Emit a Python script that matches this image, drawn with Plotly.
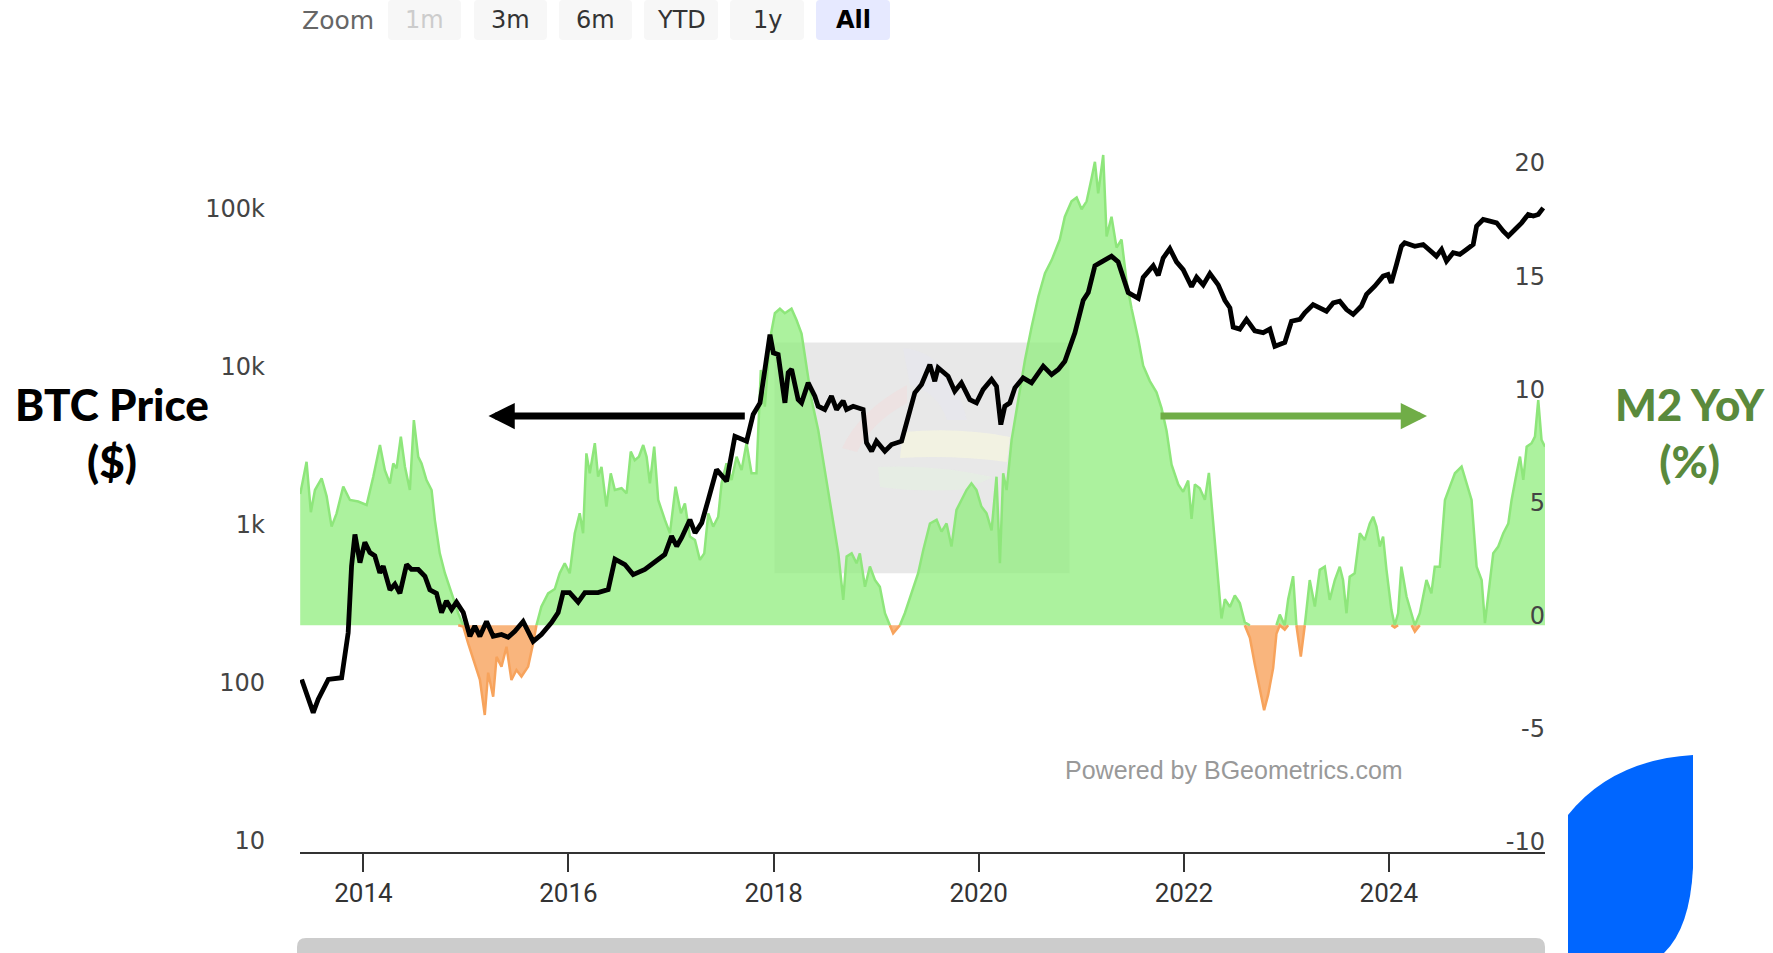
import plotly.graph_objects as go
import pandas as pd

# ---------------- data ----------------
btc_years = [
    2013.397, 2013.445, 2013.510, 2013.559, 2013.657, 2013.787, 2013.851, 2013.884, 2013.917, 2013.966,
    2014.014, 2014.063, 2014.111, 2014.160, 2014.193, 2014.259, 2014.307, 2014.356, 2014.421, 2014.469,
    2014.535, 2014.600, 2014.648, 2014.713, 2014.762, 2014.810, 2014.860, 2014.908, 2014.974, 2015.039,
    2015.086, 2015.136, 2015.201, 2015.266, 2015.347, 2015.412, 2015.477, 2015.558, 2015.607, 2015.656,
    2015.736, 2015.835, 2015.900, 2015.948, 2016.012, 2016.095, 2016.160, 2016.288, 2016.387, 2016.453,
    2016.550, 2016.630, 2016.744, 2016.842, 2016.938, 2017.004, 2017.054, 2017.102, 2017.183, 2017.233,
    2017.298, 2017.363, 2017.443, 2017.541, 2017.622, 2017.736, 2017.800, 2017.867, 2017.915, 2017.964,
    2017.997, 2018.044, 2018.110, 2018.142, 2018.175, 2018.239, 2018.272, 2018.337, 2018.402, 2018.434,
    2018.499, 2018.564, 2018.614, 2018.678, 2018.711, 2018.776, 2018.873, 2018.906, 2018.956, 2019.003,
    2019.085, 2019.150, 2019.248, 2019.297, 2019.377, 2019.443, 2019.524, 2019.572, 2019.605, 2019.702,
    2019.767, 2019.832, 2019.914, 2019.979, 2020.043, 2020.126, 2020.174, 2020.216, 2020.255, 2020.304,
    2020.353, 2020.433, 2020.515, 2020.629, 2020.710, 2020.775, 2020.839, 2020.937, 2021.018, 2021.067,
    2021.132, 2021.197, 2021.294, 2021.359, 2021.424, 2021.457, 2021.555, 2021.603, 2021.701, 2021.750,
    2021.798, 2021.863, 2021.928, 2021.993, 2022.075, 2022.124, 2022.189, 2022.254, 2022.335, 2022.400,
    2022.449, 2022.481, 2022.546, 2022.611, 2022.692, 2022.774, 2022.839, 2022.888, 2022.985, 2023.050,
    2023.131, 2023.180, 2023.261, 2023.326, 2023.391, 2023.457, 2023.521, 2023.587, 2023.652, 2023.732,
    2023.782, 2023.862, 2023.944, 2023.992, 2024.024, 2024.074, 2024.122, 2024.154, 2024.253, 2024.334,
    2024.415, 2024.463, 2024.513, 2024.561, 2024.626, 2024.691, 2024.756, 2024.821, 2024.854, 2024.918,
    2024.983, 2025.049, 2025.114, 2025.163, 2025.228, 2025.293, 2025.357, 2025.407, 2025.455, 2025.504,
]
btc_price = [
    120, 99, 74, 90, 120, 123, 237, 626, 993, 658,
    885, 763, 727, 567, 626, 443, 481, 421, 640, 596,
    596, 540, 443, 421, 318, 376, 332, 370, 318, 225,
    261, 225, 279, 225, 231, 222, 242, 279, 237, 209,
    231, 275, 318, 425, 425, 370, 425, 425, 444, 692,
    640, 553, 596, 671, 741, 968, 836, 946, 1231, 1014,
    1175, 1655, 2555, 2157, 4150, 3862, 5700, 6756, 11020, 18270,
    14000, 13650, 6756, 10500, 11020, 7080, 6756, 9040, 7450, 6430,
    6130, 7450, 6130, 6950, 6130, 6430, 6130, 3776, 3335, 3862,
    3335, 3680, 3862, 5050, 7820, 8830, 11800, 9250, 11270, 9960,
    8000, 9040, 7080, 6756, 8190, 9500, 8600, 4920, 6430, 6756,
    8410, 9730, 9040, 11530, 10200, 10990, 12370, 18750, 30130, 33700,
    49800, 52700, 57300, 52700, 37700, 33700, 31000, 42100, 49800, 43300,
    55700, 64000, 52700, 47100, 36700, 42100, 37700, 44500, 37700, 30130,
    27000, 20400, 19800, 22800, 19300, 18800, 19800, 15400, 16300, 22200,
    22800, 25100, 28300, 27000, 25700, 29000, 29700, 26300, 24500, 27700,
    32800, 37000, 42800, 43800, 38800, 50700, 66200, 69600, 66200, 67900,
    61600, 57300, 63100, 53300, 60300, 58800, 63100, 67900, 88700, 97800,
    95500, 93100, 82400, 76700, 84500, 93100, 105200, 102800, 105200, 115800,
]

m2_years = [
    2013.383, 2013.445, 2013.487, 2013.527, 2013.592, 2013.641, 2013.689, 2013.738, 2013.803, 2013.868,
    2013.949, 2014.031, 2014.096, 2014.161, 2014.209, 2014.258, 2014.291, 2014.323, 2014.365, 2014.405,
    2014.453, 2014.492, 2014.535, 2014.567, 2014.615, 2014.665, 2014.697, 2014.745, 2014.795, 2014.860,
    2014.925, 2014.974, 2015.022, 2015.087, 2015.136, 2015.184, 2015.217, 2015.266, 2015.299, 2015.347,
    2015.396, 2015.444, 2015.493, 2015.542, 2015.607, 2015.656, 2015.688, 2015.736, 2015.802, 2015.867,
    2015.915, 2015.964, 2016.013, 2016.062, 2016.110, 2016.143, 2016.175, 2016.208, 2016.257, 2016.289,
    2016.322, 2016.370, 2016.412, 2016.452, 2016.517, 2016.566, 2016.607, 2016.646, 2016.686, 2016.728,
    2016.761, 2016.793, 2016.835, 2016.874, 2016.939, 2016.988, 2017.043, 2017.095, 2017.134, 2017.183,
    2017.232, 2017.280, 2017.323, 2017.362, 2017.410, 2017.459, 2017.492, 2017.540, 2017.589, 2017.638,
    2017.687, 2017.735, 2017.784, 2017.832, 2017.875, 2017.914, 2017.962, 2018.012, 2018.061, 2018.109,
    2018.174, 2018.223, 2018.272, 2018.321, 2018.370, 2018.435, 2018.484, 2018.533, 2018.582, 2018.631,
    2018.679, 2018.712, 2018.761, 2018.809, 2018.841, 2018.891, 2018.939, 2018.988, 2019.036, 2019.086,
    2019.134, 2019.166, 2019.232, 2019.280, 2019.345, 2019.410, 2019.460, 2019.525, 2019.590, 2019.638,
    2019.687, 2019.735, 2019.784, 2019.834, 2019.882, 2019.930, 2019.979, 2020.027, 2020.077, 2020.126,
    2020.174, 2020.207, 2020.239, 2020.272, 2020.321, 2020.386, 2020.451, 2020.516, 2020.581, 2020.646,
    2020.711, 2020.790, 2020.839, 2020.904, 2020.954, 2021.002, 2021.051, 2021.099, 2021.132, 2021.164,
    2021.213, 2021.246, 2021.294, 2021.343, 2021.392, 2021.441, 2021.490, 2021.555, 2021.603, 2021.668,
    2021.733, 2021.782, 2021.831, 2021.880, 2021.945, 2021.993, 2022.042, 2022.075, 2022.107, 2022.155,
    2022.205, 2022.244, 2022.286, 2022.335, 2022.367, 2022.400, 2022.449, 2022.497, 2022.546, 2022.594,
    2022.644, 2022.692, 2022.741, 2022.783, 2022.822, 2022.871, 2022.903, 2022.936, 2022.984, 2023.018,
    2023.066, 2023.098, 2023.141, 2023.180, 2023.228, 2023.278, 2023.326, 2023.375, 2023.423, 2023.473,
    2023.521, 2023.553, 2023.587, 2023.618, 2023.667, 2023.717, 2023.765, 2023.814, 2023.847, 2023.879,
    2023.912, 2023.944, 2023.977, 2024.025, 2024.057, 2024.090, 2024.122, 2024.172, 2024.221, 2024.253,
    2024.301, 2024.366, 2024.414, 2024.447, 2024.496, 2024.546, 2024.594, 2024.643, 2024.708, 2024.756,
    2024.805, 2024.854, 2024.903, 2024.935, 2024.968, 2025.016, 2025.065, 2025.114, 2025.163, 2025.195,
    2025.244, 2025.277, 2025.309, 2025.342, 2025.390, 2025.423, 2025.455, 2025.487, 2025.521,
]
m2_yoy = [
    5.8, 7.23, 5.0, 5.98, 6.5, 5.7, 4.36, 4.95, 6.13, 5.54,
    5.47, 5.32, 6.57, 7.97, 6.86, 6.27, 7.16, 6.94, 8.34, 7.01,
    5.98, 9.07, 7.45, 7.16, 6.42, 5.98, 4.65, 3.18, 2.3, 1.41,
    0.53, -0.06, -0.8, -1.7, -2.4, -3.97, -2.1, -3.16, -1.4, -1.83,
    -0.95, -2.42, -1.98, -2.27, -1.83, -0.8, 0.0, 0.82, 1.41, 1.6,
    2.3, 2.74, 2.3, 4.07, 4.95, 4.07, 7.6, 6.72, 8.05, 6.57,
    7.0, 5.25, 6.72, 5.98, 6.06, 5.83, 7.68, 7.3, 7.45, 7.97,
    7.45, 6.28, 7.9, 5.54, 4.66, 4.07, 6.13, 4.95, 5.39, 3.92,
    3.77, 2.89, 3.18, 4.95, 4.36, 4.8, 6.28, 7.16, 6.42, 7.45,
    6.86, 8.05, 6.72, 6.72, 11.29, 9.67, 12.6, 13.8, 14.0, 13.8,
    14.0, 13.5, 12.9, 11.4, 9.97, 8.63, 7.3, 5.98, 4.5, 3.18,
    1.12, 3.04, 3.18, 2.74, 3.18, 1.7, 2.6, 2.0, 1.7, 0.53,
    0.0, -0.36, 0.0, 0.53, 1.42, 2.3, 3.33, 4.5, 4.66, 4.14,
    4.5, 3.48, 5.1, 5.54, 5.98, 6.28, 5.98, 5.25, 4.95, 4.2,
    6.57, 2.74, 6.72, 5.98, 8.2, 9.97, 11.73, 13.2, 14.53, 15.57,
    16.15, 17.06, 18.07, 18.75, 18.92, 18.4, 18.75, 19.76, 20.5, 19.1,
    20.8, 17.2, 18.07, 16.7, 17.06, 15.2, 14.0, 12.66, 11.48, 10.8,
    10.3, 9.6, 8.6, 7.1, 6.23, 5.9, 6.4, 4.7, 6.23, 6.06,
    5.55, 6.74, 4.54, 2.0, 0.3, 1.15, 0.81, 1.32, 0.98, 0.13,
    -0.55, -1.73, -2.9, -3.76, -3.08, -1.9, -0.38, 0.47, -0.2, 1.15,
    2.17, 0.0, -1.39, 0.0, 2.0, 0.83, 2.45, 2.59, 1.12, 2.0,
    2.59, 2.0, 0.53, 2.15, 2.3, 4.07, 3.77, 4.5, 4.8, 4.36,
    3.48, 3.92, 2.45, 0.68, -0.1, 0.53, 2.59, 1.27, 0.53, -0.28,
    0.53, 2.0, 1.41, 2.59, 2.59, 5.54, 6.13, 6.72, 7.02, 6.28,
    5.54, 2.59, 2.0, 0.09, 1.27, 3.18, 3.48, 4.07, 4.5, 5.54,
    6.72, 7.46, 6.43, 7.9, 8.05, 8.34, 9.96, 8.2, 7.9,
]

x_tick_years = [2014, 2016, 2018, 2020, 2022, 2024]
btc_tick_vals = [10, 100, 1000, 10000, 100000]
btc_tick_text = ["10", "100", "1k", "10k", "100k"]
m2_tick_vals = [-10, -5, 0, 5, 10, 15, 20]
m2_tick_text = ["-10", "-5", "0", "5", "10", "15", "20"]
zoom_buttons = ["1m", "3m", "6m", "YTD", "1y", "All"]


def year_to_ts(y):
    yr = int(y)
    start = pd.Timestamp(year=yr, month=1, day=1)
    end = pd.Timestamp(year=yr + 1, month=1, day=1)
    return start + (end - start) * (y - yr)


btc_x = [year_to_ts(y) for y in btc_years]
m2_x = [year_to_ts(y) for y in m2_years]
n = min(len(m2_x), len(m2_yoy))
m2_x, m2_v = m2_x[:n], m2_yoy[:n]

pos_fill = [max(v, 0) for v in m2_v]
neg_fill = [min(v, 0) for v in m2_v]
pos_line, neg_line = [], []
for i, v in enumerate(m2_v):
    prev_v = m2_v[i - 1] if i > 0 else v
    next_v = m2_v[i + 1] if i < n - 1 else v
    pos_line.append(max(v, 0) if (v >= 0 or prev_v > 0 or next_v > 0) else None)
    neg_line.append(min(v, 0) if (v <= 0 or prev_v < 0 or next_v < 0) else None)

GREEN = "#8ee67b"
ORANGE = "#f7a35c"

fig = go.Figure()
fig.add_trace(go.Scatter(x=m2_x, y=pos_fill, mode="lines", line=dict(width=0),
                         fill="tozeroy", fillcolor="rgba(144,237,125,0.75)", yaxis="y", hoverinfo="skip"))
fig.add_trace(go.Scatter(x=m2_x, y=neg_fill, mode="lines", line=dict(width=0),
                         fill="tozeroy", fillcolor="rgba(247,163,92,0.8)", yaxis="y", hoverinfo="skip"))
fig.add_trace(go.Scatter(x=m2_x, y=pos_line, mode="lines", line=dict(color=GREEN, width=2.5),
                         connectgaps=False, yaxis="y", name="M2 YoY"))
fig.add_trace(go.Scatter(x=m2_x, y=neg_line, mode="lines", line=dict(color=ORANGE, width=2.5),
                         connectgaps=False, yaxis="y", hoverinfo="skip"))
fig.add_trace(go.Scatter(x=btc_x, y=btc_price, mode="lines", line=dict(color="black", width=4.8),
                         yaxis="y2", name="BTC Price"))

# ---------------- page geometry helpers (decorations only) ----------------
PL, PR, PT, PB = 300, 1545, 150, 852
PW, PH = PR - PL, PB - PT


def fx(x):
    return (x - PL) / PW


def fy(y):
    return (PB - y) / PH


def pt(x, y):
    return f"{fx(x):.5f},{fy(y):.5f}"


def rrect(x0, y0, x1, y1, r):
    return (f"M{pt(x0 + r, y0)} L{pt(x1 - r, y0)} Q{pt(x1, y0)} {pt(x1, y0 + r)} "
            f"L{pt(x1, y1 - r)} Q{pt(x1, y1)} {pt(x1 - r, y1)} L{pt(x0 + r, y1)} "
            f"Q{pt(x0, y1)} {pt(x0, y1 - r)} L{pt(x0, y0 + r)} Q{pt(x0, y0)} {pt(x0 + r, y0)} Z")


shapes = []


def add_path(d, fill, layer="above", opacity=1.0):
    shapes.append(dict(type="path", xref="paper", yref="paper", path=d, fillcolor=fill,
                       line=dict(width=0), layer=layer, opacity=opacity))


# watermark box + faint logo
shapes.append(dict(type="rect", xref="paper", yref="paper", x0=fx(774.5), x1=fx(1069.6),
                   y0=fy(573.3), y1=fy(342.6), fillcolor="#e2e2e2", line=dict(width=0),
                   layer="below", opacity=0.8))
add_path(f"M{pt(842, 448)} Q{pt(860, 410)} {pt(907, 385)} L{pt(907, 403)} Q{pt(872, 422)} {pt(857, 452)} Z",
         "#f0dede", "below", 0.6)
add_path(f"M{pt(903, 348)} Q{pt(950, 352)} {pt(967, 420)} L{pt(947, 420)} Q{pt(938, 392)} {pt(910, 385)} Z",
         "#e6e6ef", "below", 0.6)
add_path(f"M{pt(903, 432)} Q{pt(960, 427)} {pt(1010, 437)} L{pt(1007, 462)} Q{pt(955, 455)} {pt(900, 458)} Z",
         "#f6f6e0", "below", 0.7)
add_path(f"M{pt(878, 467)} Q{pt(935, 464)} {pt(993, 477)} L{pt(967, 489)} Q{pt(925, 493)} {pt(880, 487)} Z",
         "#e6f0e2", "below", 0.7)

# zoom buttons
btn_x = [(388, 461), (474, 547), (559, 632), (644, 718), (730, 804), (816, 890)]
for (x0, x1), lab in zip(btn_x, zoom_buttons):
    add_path(rrect(x0, 0, x1, 40, 4), "#e6e9ff" if lab == "All" else "#f7f7f7")

# scrollbar
add_path(rrect(297, 938, 1545, 985, 9), "#cccccc")

# blue corner blob
add_path(f"M{pt(1568, 953)} L{pt(1568, 815)} Q{pt(1612, 760)} {pt(1693, 755)} "
         f"L{pt(1693, 868)} Q{pt(1690, 928)} {pt(1664, 953)} Z", "#0066ff")

annotations = []
annotations.append(dict(text="Zoom", xref="paper", yref="paper", x=fx(300), y=fy(20),
                        xanchor="left", yanchor="middle", showarrow=False,
                        font=dict(family="DejaVu Sans", size=25, color="#666666")))
for (x0, x1), lab in zip(btn_x, zoom_buttons):
    if lab == "All":
        txt, col = "<b>All</b>", "#000000"
    elif lab == "1m":
        txt, col = lab, "#cccccc"
    else:
        txt, col = lab, "#333333"
    annotations.append(dict(text=txt, xref="paper", yref="paper", x=fx((x0 + x1) / 2), y=fy(20),
                            xanchor="center", yanchor="middle", showarrow=False,
                            font=dict(family="DejaVu Sans", size=24, color=col)))

annotations.append(dict(text="BTC Price<br>($)", xref="paper", yref="paper",
                        x=fx(112.5), y=fy(432), xanchor="center", yanchor="middle", showarrow=False,
                        align="center", font=dict(family="Lato", size=44, color="#000000", weight=900)))
annotations.append(dict(text="M2 YoY<br>(%)", xref="paper", yref="paper",
                        x=fx(1690), y=fy(432), xanchor="center", yanchor="middle", showarrow=False,
                        align="center", font=dict(family="Lato", size=44, color="#5a8a3c", weight=900)))
annotations.append(dict(text="Powered by BGeometrics.com", xref="paper", yref="paper",
                        x=fx(1234), y=fy(770), xanchor="center", yanchor="middle", showarrow=False,
                        font=dict(family="Liberation Sans", size=25, color="#999999")))
# arrows
annotations.append(dict(text="", xref="paper", yref="paper", x=fx(488.5), y=fy(416),
                        ax=257.8, ay=0, showarrow=True, arrowhead=2, arrowsize=0.75,
                        arrowwidth=7, arrowcolor="#000000", standoff=0))
annotations.append(dict(text="", xref="paper", yref="paper", x=fx(1427), y=fy(416),
                        ax=-268, ay=0, showarrow=True, arrowhead=2, arrowsize=0.75,
                        arrowwidth=7, arrowcolor="#70ad47", standoff=0))

fig.update_layout(
    width=1773, height=953,
    margin=dict(l=PL, r=1773 - PR, t=PT, b=953 - PB, pad=0),
    paper_bgcolor="white", plot_bgcolor="white",
    showlegend=False,
    xaxis=dict(
        type="date", range=[year_to_ts(2013.381), year_to_ts(2025.521)],
        tickvals=[pd.Timestamp(year=y, month=1, day=1) for y in x_tick_years],
        ticktext=[str(y) for y in x_tick_years],
        showgrid=False, zeroline=False, showline=True, linecolor="#333333", linewidth=1.5,
        ticks="outside", ticklen=18, tickwidth=1.5, tickcolor="#333333",
        tickfont=dict(family="Roboto", size=26, color="#333333"),
        ticklabelstandoff=-1,
    ),
    # M2 axis: labels drawn right-aligned just inside the right edge of the plot
    yaxis=dict(
        side="left", anchor="free", position=1.0, range=[-10.03, 21.02],
        tickvals=m2_tick_vals, ticktext=m2_tick_text,
        showgrid=False, zeroline=False, showline=False, ticks="",
        tickfont=dict(family="DejaVu Sans", size=24, color="#444444"),
        ticklabelshift=-10, ticklabelstandoff=0,
    ),
    yaxis2=dict(
        overlaying="y", side="left", anchor="x", type="log", range=[0.987, 5.430],
        tickvals=btc_tick_vals, ticktext=btc_tick_text,
        showgrid=False, zeroline=False, showline=False, ticks="",
        tickfont=dict(family="DejaVu Sans", size=24, color="#444444"),
        ticklabelstandoff=34, ticklabelshift=-9,
    ),
    shapes=shapes,
    annotations=annotations,
)

fig.write_html("out.html", config={"displayModeBar": False},
               post_script="document.body.style.margin='0';document.body.style.overflow='hidden';")
